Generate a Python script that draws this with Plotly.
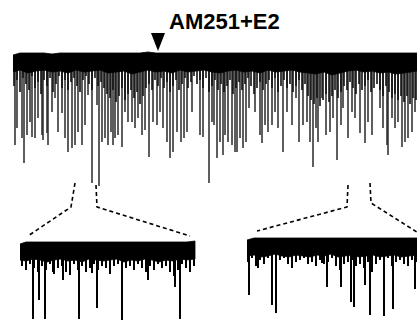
import plotly.graph_objects as go

# ---- whole recording (upper trace) ----
# solid part of the baseline noise: top edge and lower edge
main_band_x = [13, 20, 28, 36, 44, 52, 60, 68, 76, 84, 92, 100, 108, 116, 124, 132, 140, 148,
               156, 164, 172, 180, 188, 196, 204, 212, 220, 228, 236, 244, 252, 260, 268, 276,
               284, 292, 300, 308, 316, 324, 332, 340, 348, 356, 364, 372, 380, 388, 396, 404,
               412, 417]
main_band_top = [55, 53, 53, 53, 53, 54, 53, 53, 53, 53, 53, 53, 53, 53, 53, 53, 53, 52,
                 53, 53, 53, 53, 53, 53, 53, 53, 53, 53, 53, 53, 53, 53, 53, 53,
                 53, 53, 53, 53, 53, 53, 53, 53, 53, 53, 53, 53, 53, 53, 53, 53,
                 53, 53]
main_band_bottom = [72, 70, 73, 71, 70, 72, 71, 73, 70, 72, 71, 70, 73, 72, 71, 74, 72, 70,
                    72, 71, 73, 70, 72, 71, 70, 72, 73, 71, 70, 72, 71, 73, 70, 72,
                    71, 70, 72, 73, 74, 72, 75, 73, 71, 70, 72, 71, 73, 72, 74, 73,
                    72, 71]

# small, frequent events that make up the dense fringe under the baseline
small_event_x = [14, 17, 20, 23, 26, 29, 32, 35, 38, 41, 44, 47, 50, 53, 56, 59, 62, 65, 68, 71,
                 74, 77, 80, 83, 86, 89, 92, 95, 98, 101, 104, 107, 110, 113, 116, 119, 122, 125,
                 128, 131, 134, 137, 140, 143, 146, 149, 152, 155, 158, 161, 164, 167, 170, 173,
                 176, 179, 182, 185, 188, 191, 194, 197, 200, 203, 206, 209, 212, 215, 218, 221,
                 224, 227, 230, 233, 236, 239, 242, 245, 248, 251, 254, 257, 260, 263, 266, 269,
                 272, 275, 278, 281, 284, 287, 290, 293, 296, 299, 302, 305, 308, 311, 314, 317,
                 320, 323, 326, 329, 332, 335, 338, 341, 344, 347, 350, 353, 356, 359, 362, 365,
                 368, 371, 374, 377, 380, 383, 386, 389, 392, 395, 398, 401, 404, 407, 410, 413,
                 416]
small_event_peak = [86, 80, 92, 78, 84, 90, 76, 88, 82, 94,
                    80, 86, 78, 92, 84, 76, 88, 80, 90, 82,
                    78, 86, 92, 80, 76, 84, 90, 78, 86, 82,
                    88, 94, 98, 90, 102, 96, 88, 100, 94, 90,
                    98, 92, 104, 96, 88, 84, 90, 80, 86, 78,
                    88, 82, 92, 86, 80, 90, 84, 78, 88, 82,
                    76, 84, 80, 88, 78, 92, 86, 80, 90, 84,
                    92, 86, 80, 94, 88, 82, 90, 84, 78, 86,
                    94, 88, 82, 90, 84, 80, 88, 78, 92, 86,
                    80, 88, 84, 92, 86, 80, 90, 84, 96, 100,
                    104, 98, 106, 100, 94, 102, 96, 90, 98, 92,
                    86, 90, 82, 88, 94, 84, 90, 86, 80, 92,
                    88, 84, 90, 96, 86, 92, 98, 94, 100, 96,
                    102, 96, 104, 98, 100]

# larger events: time position and peak depth
main_event_x = [15, 17, 22, 24, 27, 30, 32, 35, 38, 42, 43, 47, 48, 52, 55, 58, 62, 65, 68, 72,
                75, 78, 82, 85, 88, 92, 97, 99, 102, 105, 108, 111, 113, 115, 118, 122, 125, 128,
                132, 135, 138, 142, 145, 149, 153, 157, 160, 163, 167, 170, 173, 177, 181, 184,
                187, 192, 200, 203, 209, 212, 214, 217, 220, 223, 225, 228, 232, 235, 237, 240,
                243, 246, 249, 255, 260, 262, 265, 268, 272, 275, 278, 283, 287, 292, 296, 299,
                303, 307, 310, 313, 316, 318, 322, 326, 330, 333, 337, 341, 343, 348, 352, 355,
                360, 365, 368, 372, 380, 383, 387, 388, 392, 395, 398, 402, 405, 408, 412, 415]
main_event_peak = [145, 128, 138, 163, 135, 122, 137, 138, 118, 135, 140, 133, 145, 112, 98, 132,
                   113, 138, 152, 148, 145, 132, 145, 125, 95, 183, 105, 186, 142, 138, 145, 132,
                   145, 138, 135, 147, 112, 122, 122, 128, 118, 135, 130, 157, 122, 125, 112, 128,
                   142, 158, 152, 132, 142, 138, 132, 112, 135, 137, 183, 122, 125, 158, 142, 155,
                   135, 142, 145, 152, 152, 138, 148, 142, 108, 112, 135, 143, 125, 132, 125, 112,
                   128, 152, 112, 125, 98, 142, 125, 122, 142, 167, 128, 142, 98, 135, 132, 118,
                   160, 125, 108, 138, 112, 118, 133, 143, 122, 135, 108, 128, 145, 155, 118, 128,
                   122, 147, 142, 138, 132, 112]

# ---- expanded segment, left ----
left_band_x = [20, 26, 33, 40, 47, 54, 61, 68, 75, 82, 89, 96, 103, 110, 117, 124, 131, 138,
               145, 152, 159, 166, 173, 180, 187, 195]
left_band_top = [244, 242, 242, 242, 242, 242, 242, 242, 242, 242, 242, 242, 242, 242, 242, 242,
                 242, 242, 242, 242, 242, 242, 242, 242, 242, 241]
left_band_bottom = [260, 261, 259, 260, 262, 260, 259, 261, 260, 262, 259, 260, 261, 260, 259,
                    262, 260, 261, 259, 260, 262, 260, 261, 259, 260, 259]
left_small_x = [22, 26, 30, 34, 38, 42, 46, 50, 54, 58, 62, 66, 70, 74, 78, 82, 86, 90, 94, 98,
                102, 106, 110, 114, 118, 122, 126, 130, 134, 138, 142, 146, 150, 154, 158, 162,
                166, 170, 174, 178, 182, 186, 190, 194]
left_small_peak = [266, 270, 264, 268, 272, 266, 270, 264, 274, 268, 266, 272, 268, 264, 270,
                   266, 272, 268, 264, 270, 266, 268, 274, 266, 264, 272, 268, 266, 270, 264,
                   268, 272, 266, 270, 264, 268, 266, 272, 276, 270, 264, 268, 272, 266]
left_event_x = [33, 39, 45, 53, 63, 70, 79, 92, 97, 122, 148, 175, 180]
left_event_peak = [319, 300, 319, 272, 280, 275, 319, 273, 308, 320, 280, 287, 319]

# ---- expanded segment, right ----
right_band_x = [247, 254, 261, 268, 275, 282, 289, 296, 303, 310, 317, 324, 331, 338, 345, 352,
                359, 366, 373, 380, 387, 394, 401, 408, 417]
right_band_top = [240, 238, 238, 238, 238, 238, 238, 238, 238, 238, 238, 238, 238, 238, 238, 238,
                  238, 238, 238, 238, 238, 238, 238, 238, 238]
right_band_bottom = [256, 255, 257, 256, 254, 256, 257, 255, 256, 257, 255, 256, 254, 257, 256,
                     255, 257, 256, 255, 257, 256, 255, 257, 256, 255]
right_small_x = [248, 252, 256, 260, 264, 268, 272, 276, 280, 284, 288, 292, 296, 300, 304, 308,
                 312, 316, 320, 324, 328, 332, 336, 340, 344, 348, 352, 356, 360, 364, 368, 372,
                 376, 380, 384, 388, 392, 396, 400, 404, 408, 412, 416]
right_small_peak = [262, 258, 266, 260, 264, 258, 262, 268, 260, 258, 264, 268, 262, 260, 258,
                    264, 262, 266, 260, 264, 262, 258, 266, 270, 264, 262, 260, 266, 264, 268,
                    262, 272, 264, 260, 262, 258, 266, 262, 260, 264, 266, 260, 262]
right_event_x = [249, 258, 272, 276, 292, 322, 327, 341, 351, 354, 365, 370, 384, 393, 415]
right_event_peak = [295, 268, 305, 313, 264, 263, 287, 287, 302, 307, 285, 315, 316, 309, 289]

# zoom connectors (dashed)
connectors = [
    ([75, 71, 28], [183, 207, 236]),
    ([96, 97, 190], [185, 207, 236]),
    ([348, 347, 257], [185, 207, 231]),
    ([370, 371, 420], [183, 203, 234]),
]

label_text = "AM251+E2"


def band(xs, top, bottom, color="black"):
    return go.Scatter(
        x=xs + xs[::-1], y=top + bottom[::-1], mode="lines", fill="toself",
        fillcolor=color, line=dict(color=color, width=0.8), hoverinfo="skip",
        showlegend=False)


def events(xs, peaks, base, color, width):
    ex, ey = [], []
    for x, p in zip(xs, peaks):
        ex += [x, x, None]
        ey += [base, p, None]
    return go.Scatter(x=ex, y=ey, mode="lines", line=dict(color=color, width=width),
                      hoverinfo="skip", showlegend=False)


fig = go.Figure()
fig.add_trace(events(main_event_x, main_event_peak, 62, "rgb(40,40,40)", 1.5))
fig.add_trace(events(small_event_x, small_event_peak, 62, "rgb(15,15,15)", 1.6))
fig.add_trace(band(main_band_x, main_band_top, main_band_bottom))
fig.add_trace(events(left_event_x, left_event_peak, 252, "black", 2))
fig.add_trace(events(left_small_x, left_small_peak, 250, "black", 2))
fig.add_trace(band(left_band_x, left_band_top, left_band_bottom))
fig.add_trace(events(right_event_x, right_event_peak, 250, "black", 2))
fig.add_trace(events(right_small_x, right_small_peak, 248, "black", 2))
fig.add_trace(band(right_band_x, right_band_top, right_band_bottom))

for cx, cy in connectors:
    fig.add_trace(go.Scatter(x=cx, y=cy, mode="lines",
                             line=dict(color="black", width=1.6, dash="4px,3px"),
                             hoverinfo="skip", showlegend=False))

# application marker
fig.add_shape(type="path", path="M 151 33 L 165 33 L 158 51 Z",
              fillcolor="black", line=dict(color="black", width=0))
fig.add_annotation(x=167, y=21, text="<b>" + label_text + "</b>", showarrow=False,
                   xanchor="left", yanchor="middle",
                   font=dict(family="Liberation Sans, Arial, sans-serif", size=22, color="black"))

fig.update_layout(
    width=417, height=322, margin=dict(l=0, r=0, t=0, b=0),
    paper_bgcolor="white", plot_bgcolor="white",
    xaxis=dict(range=[0, 417], visible=False, fixedrange=True),
    yaxis=dict(range=[322, 0], visible=False, fixedrange=True),
)

fig.write_html("out.html")
